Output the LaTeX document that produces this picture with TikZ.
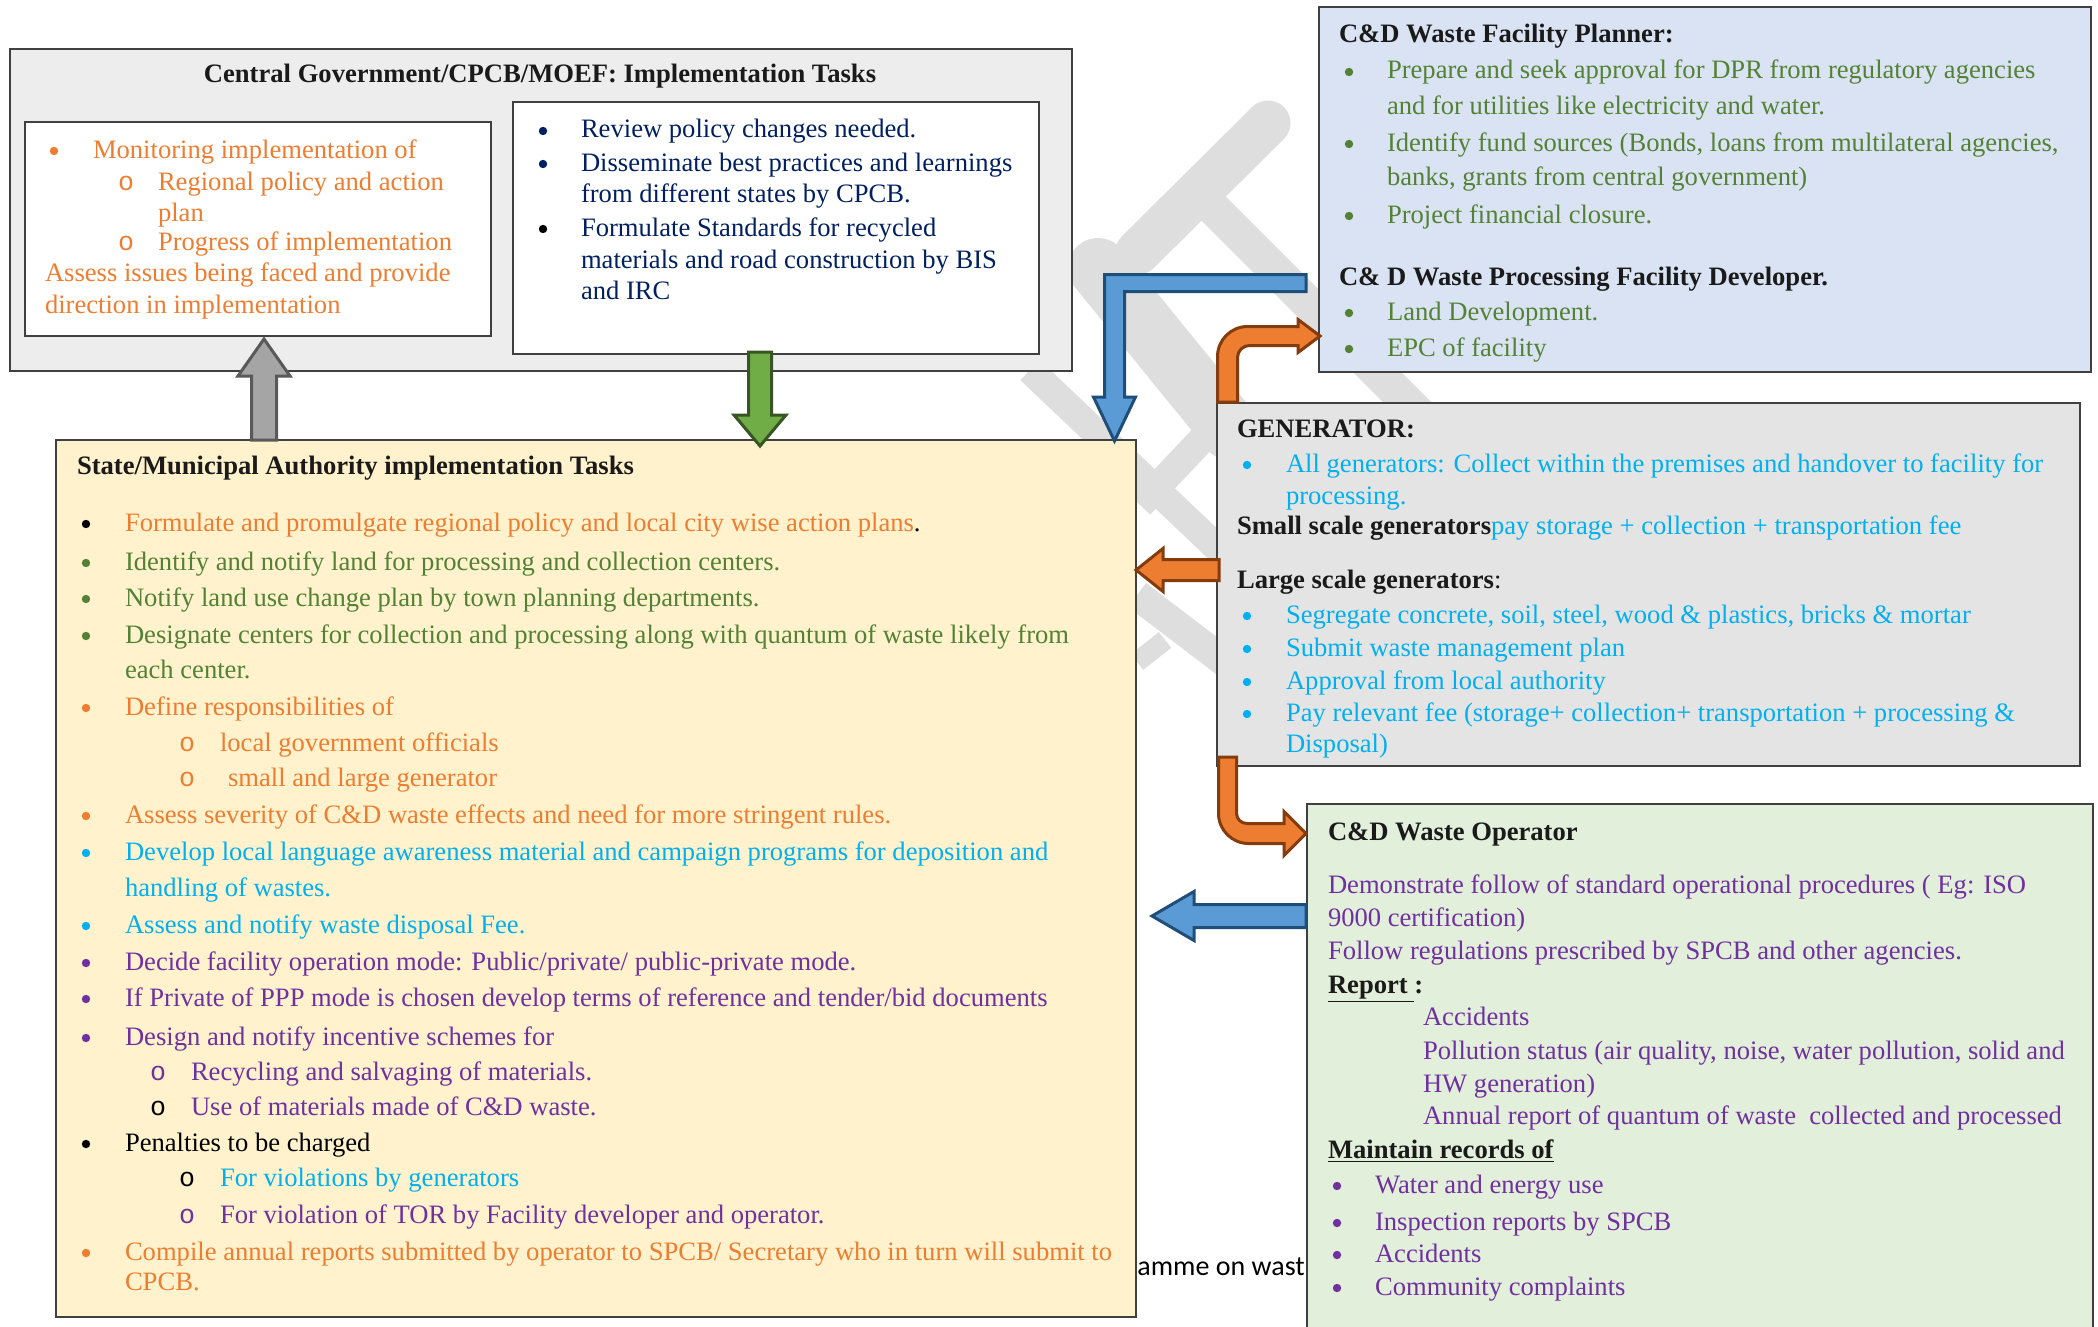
\documentclass[tikz,border=0pt]{standalone}
\usepackage{fontspec}
\setmainfont{Liberation Serif}
\newfontfamily\calibfont{Carlito}
\newfontfamily\monofont{Liberation Mono}
\definecolor{orng}{HTML}{ED7D31}
\definecolor{navy}{HTML}{002060}
\definecolor{grn}{HTML}{538135}
\definecolor{cyn}{HTML}{00B0F0}
\definecolor{purp}{HTML}{7030A0}
\definecolor{ttl}{HTML}{1A1A1A}
\definecolor{boxline}{HTML}{404040}
\definecolor{cgfill}{HTML}{EDEDED}
\definecolor{stfill}{HTML}{FFF2CC}
\definecolor{plfill}{HTML}{DAE3F3}
\definecolor{gefill}{HTML}{E4E4E4}
\definecolor{opfill}{HTML}{E2EFDA}
\definecolor{wmgray}{HTML}{DEDEDE}
\definecolor{orfill}{HTML}{ED7D31}
\definecolor{ordraw}{HTML}{843C0C}
\definecolor{blfill}{HTML}{5B9BD5}
\definecolor{bldraw}{HTML}{1F4E79}
\definecolor{grfill}{HTML}{70AD47}
\definecolor{grdraw}{HTML}{375623}
\definecolor{gyfill}{HTML}{A5A5A5}
\definecolor{gydraw}{HTML}{595959}
\newcounter{tn}
\newcounter{bn}
\tikzset{
  txt/.style={anchor=base west, inner sep=0pt, outer sep=0pt, font=\fontsize{13.3}{16}\selectfont},
  bulletdot/.style={circle, inner sep=0pt, minimum size=4.2pt},
  box/.style={draw=boxline, line width=0.75pt},
  wm/.style={draw=wmgray},
  blk/.style={line width=1.5pt, line join=miter},
  orarrow/.style={blk, fill=orfill, draw=ordraw},
  bluarrow/.style={blk, fill=blfill, draw=bldraw},
  grarrow/.style={blk, fill=grfill, draw=grdraw},
  gyarrow/.style={blk, fill=gyfill, draw=gydraw}
}
\newcommand{\ptext}[4][black]{\stepcounter{tn}\node[txt,text=#1] (t\arabic{tn}) at (#2,{#3+8}) {#4};}
\newcommand{\bul}[3][black]{\stepcounter{bn}\node[bulletdot,fill=#1] (b\arabic{bn}) at ({#2+4},{#3+1}) {};}
\newcommand{\sbul}[3][black]{\ptext[#1]{#2}{#3}{\monofont o}}
\begin{document}
\begin{tikzpicture}[x=0.5pt,y=-0.5pt]
\useasboundingbox (0,0) rectangle (2098,1327);
\fill[white] (0,0) rectangle (2098,1327);
% watermark
\draw[wm, line width=22.5pt, line cap=round] (1268,123) -- (1138,252);
\draw[wm, line width=17pt] (1210,205) -- (1500,495);
\draw[wm, line width=30pt, line cap=round] (1098,268) -- (1230,430);
\draw[wm, line width=14pt] (1030,370) -- (1230,560);
\draw[wm, line width=14pt] (1140,505) -- (1225,415);
\draw[wm, line width=15pt] (1137,595) -- (1225,662);
\draw[wm, line width=10pt] (1137,662) -- (1165,640);
% background footer fragment
\node[anchor=base west, inner sep=0pt, font=\calibfont\fontsize{14}{16}\selectfont] (foot) at (1137,1275) {amme on wast};
% boxes
\draw[box, fill=cgfill] (10,49) coordinate (cgNW) rectangle (1072,371) coordinate (cgSE);
\draw[box, fill=white] (25,122) coordinate (lbNW) rectangle (491,336) coordinate (lbSE);
\draw[box, fill=white] (513,102) coordinate (rbNW) rectangle (1039,354) coordinate (rbSE);
\draw[box, fill=stfill] (56,440) coordinate (stNW) rectangle (1136,1317) coordinate (stSE);
\draw[box, fill=plfill] (1319,7) coordinate (plNW) rectangle (2091,372) coordinate (plSE);
\draw[box, fill=gefill] (1217,403) coordinate (geNW) rectangle (2080,766) coordinate (geSE);
\draw[box, fill=opfill] (1307,804) coordinate (opNW) rectangle (2093,1345) coordinate (opSE);
% central government
\node[anchor=base, inner sep=0pt, text=ttl, font=\fontsize{13.3}{16}\selectfont] (cgt) at (540,83) {\textbf{Central Government/CPCB/MOEF: Implementation Tasks}};
\bul[orng]{50}{150}\ptext[orng]{93}{150}{Monitoring implementation of}
\sbul[orng]{118}{182}\ptext[orng]{158}{182}{Regional policy and action}
\ptext[orng]{158}{213}{plan}
\sbul[orng]{118}{242}\ptext[orng]{158}{242}{Progress of implementation}
\ptext[orng]{45}{273}{Assess issues being faced and provide}
\ptext[orng]{45}{305}{direction in implementation}
\bul[navy]{539}{130}\ptext[navy]{581}{130}{Review policy changes needed.}
\bul[navy]{539}{163}\ptext[navy]{581}{163}{Disseminate best practices and learnings}
\ptext[navy]{581}{194}{from different states by CPCB.}
\bul{539}{228}\ptext[navy]{581}{228}{Formulate Standards for recycled}
\ptext[navy]{581}{260}{materials and road construction by BIS}
\ptext[navy]{581}{291}{and IRC}
% state
\ptext[ttl]{77}{466}{\textbf{State/Municipal Authority implementation Tasks}}
\bul{82}{523}\ptext[orng]{125}{523}{Formulate and promulgate regional policy and local city wise action plans\textcolor{black}{.}}
\bul[grn]{82}{562}\ptext[grn]{125}{562}{Identify and notify land for processing and collection centers.}
\bul[grn]{82}{598}\ptext[grn]{125}{598}{Notify land use change plan by town planning departments.}
\bul[grn]{82}{635}\ptext[grn]{125}{635}{Designate centers for collection and processing along with quantum of waste likely from}
\ptext[grn]{125}{670}{each center.}
\bul[orng]{82}{707}\ptext[orng]{125}{707}{Define responsibilities of}
\sbul[orng]{179}{743}\ptext[orng]{220}{743}{local government officials}
\sbul[orng]{179}{778}\ptext[orng]{228}{778}{small and large generator}
\bul[orng]{82}{815}\ptext[orng]{125}{815}{Assess severity of C\&D waste effects and need for more stringent rules.}
\bul[cyn]{82}{852}\ptext[cyn]{125}{852}{Develop local language awareness material and campaign programs for deposition and}
\ptext[cyn]{125}{888}{handling of wastes.}
\bul[cyn]{82}{925}\ptext[cyn]{125}{925}{Assess and notify waste disposal Fee.}
\bul[purp]{82}{962}\ptext[purp]{125}{962}{Decide facility operation mode: Public/private/ public-private mode.}
\bul[purp]{82}{998}\ptext[purp]{125}{998}{If Private of PPP mode is chosen develop terms of reference and tender/bid documents}
\bul[purp]{82}{1037}\ptext[purp]{125}{1037}{Design and notify incentive schemes for}
\sbul[purp]{150}{1072}\ptext[purp]{191}{1072}{Recycling and salvaging of materials.}
\sbul{150}{1107}\ptext[purp]{191}{1107}{Use of materials made of C\&D waste.}
\bul{82}{1143}\ptext{125}{1143}{Penalties to be charged}
\sbul{179}{1178}\ptext[cyn]{220}{1178}{For violations by generators}
\sbul[purp]{179}{1215}\ptext[purp]{220}{1215}{For violation of TOR by Facility developer and operator.}
\bul[orng]{82}{1252}\ptext[orng]{125}{1252}{Compile annual reports submitted by operator to SPCB/ Secretary who in turn will submit to}
\ptext[orng]{125}{1282}{CPCB.}
% planner
\ptext[ttl]{1339}{35}{\textbf{C\&D Waste Facility Planner:}}
\bul[grn]{1345}{71}\ptext[grn]{1387}{71}{Prepare and seek approval for DPR from regulatory agencies}
\ptext[grn]{1387}{106}{and for utilities like electricity and water.}
\bul[grn]{1345}{143}\ptext[grn]{1387}{143}{Identify fund sources (Bonds, loans from multilateral agencies,}
\ptext[grn]{1387}{177}{banks, grants from central government)}
\bul[grn]{1345}{215}\ptext[grn]{1387}{215}{Project financial closure.}
\ptext[ttl]{1339}{277}{\textbf{C\& D Waste Processing Facility Developer.}}
\bul[grn]{1345}{312}\ptext[grn]{1387}{312}{Land Development.}
\bul[grn]{1345}{348}\ptext[grn]{1387}{348}{EPC of facility}
% generator
\ptext[ttl]{1237}{429}{\textbf{GENERATOR:}}
\bul[cyn]{1243}{464}\ptext[cyn]{1286}{464}{All generators: Collect within the premises and handover to facility for}
\ptext[cyn]{1286}{496}{processing.}
\ptext[ttl]{1237}{526}{\textbf{Small scale generators}\textcolor{cyn}{pay storage + collection + transportation fee}}
\ptext[ttl]{1237}{580}{\textbf{Large scale generators}:}
\bul[cyn]{1243}{615}\ptext[cyn]{1286}{615}{Segregate concrete, soil, steel, wood \& plastics, bricks \& mortar}
\bul[cyn]{1243}{648}\ptext[cyn]{1286}{648}{Submit waste management plan}
\bul[cyn]{1243}{681}\ptext[cyn]{1286}{681}{Approval from local authority}
\bul[cyn]{1243}{713}\ptext[cyn]{1286}{713}{Pay relevant fee (storage+ collection+ transportation + processing \&}
\ptext[cyn]{1286}{744}{Disposal)}
% operator
\ptext[ttl]{1328}{832}{\textbf{C\&D Waste Operator}}
\ptext[purp]{1328}{885}{Demonstrate follow of standard operational procedures ( Eg: ISO}
\ptext[purp]{1328}{918}{9000 certification)}
\ptext[purp]{1328}{951}{Follow regulations prescribed by SPCB and other agencies.}
\ptext[ttl]{1328}{985}{\textbf{\underline{Report\ }:}}
\ptext[purp]{1423}{1017}{Accidents}
\ptext[purp]{1423}{1051}{Pollution status (air quality, noise, water pollution, solid and}
\ptext[purp]{1423}{1084}{HW generation)}
\ptext[purp]{1423}{1116}{Annual report of quantum of waste\ \ collected and processed}
\ptext[ttl]{1328}{1150}{\textbf{\underline{Maintain records of}}}
\bul[purp]{1333}{1185}\ptext[purp]{1375}{1185}{Water and energy use}
\bul[purp]{1333}{1222}\ptext[purp]{1375}{1222}{Inspection reports by SPCB}
\bul[purp]{1333}{1254}\ptext[purp]{1375}{1254}{Accidents}
\bul[purp]{1333}{1287}\ptext[purp]{1375}{1287}{Community complaints}
% block arrows
\draw[gyarrow] (251.5,440) -- (251.5,376) -- (238,376) -- (264,339) -- (290,376) -- (276.5,376) -- (276.5,440) -- cycle;
\draw[grarrow] (748.5,352) -- (748.5,415) -- (734,415) -- (760,446) -- (786,415) -- (771.5,415) -- (771.5,352) -- cycle;
\draw[bluarrow] (1306,274.5) -- (1104.5,274.5) -- (1104.5,397) -- (1093.5,397) -- (1114.5,441) -- (1135.5,397) -- (1124.5,397) -- (1124.5,291.5) -- (1306,291.5) -- cycle;
\draw[bluarrow] (1306,904.5) -- (1194,904.5) -- (1194,891.5) -- (1152,916) -- (1194,940.5) -- (1194,927.5) -- (1306,927.5) -- cycle;
\draw[orarrow] (1219,559.5) -- (1163,559.5) -- (1163,548.5) -- (1136,570) -- (1163,591.5) -- (1163,580.5) -- (1219,580.5) -- cycle;
\draw[orarrow] (1217.5,402) -- (1217.5,356.5) .. controls (1217.5,340) and (1231,326.5) .. (1247.5,326.5) -- (1298,326.5) -- (1298,319.5) -- (1320,336) -- (1298,352.5) -- (1298,345.5) -- (1249.5,345.5) .. controls (1242.9,345.5) and (1237.5,350.9) .. (1237.5,357.5) -- (1237.5,402) -- cycle;
\draw[orarrow] (1218.5,757) -- (1218.5,813.5) .. controls (1218.5,830) and (1232,843.5) .. (1248.5,843.5) -- (1284,843.5) -- (1284,855.5) -- (1306,833.5) -- (1284,811.5) -- (1284,823.5) -- (1247,823.5) .. controls (1241,823.5) and (1236.5,819) .. (1236.5,813) -- (1236.5,757) -- cycle;
\end{tikzpicture}
\end{document}
